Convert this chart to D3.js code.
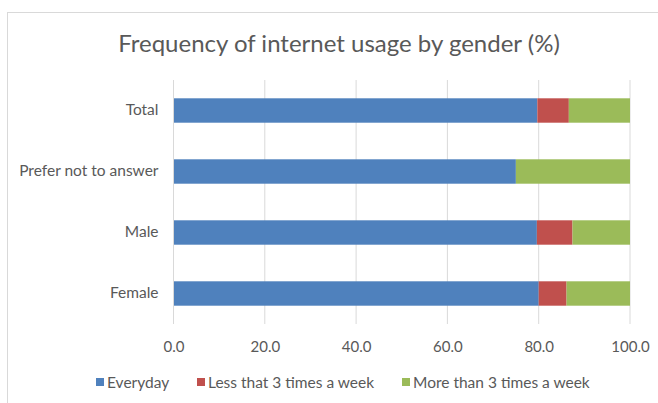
<!DOCTYPE html>
<html>
<head>
<meta charset="utf-8">
<script src="https://cdn.jsdelivr.net/npm/d3@7"></script>
<style>
  html, body { margin: 0; padding: 0; background: #fff; }
  svg { display: block; font-family: Lato, "Open Sans", sans-serif; }
</style>
</head>
<body>
<svg id="chart" width="658" height="403"></svg>
<script>
// Categories from top to bottom as listed on the axis
const categories = ["Total", "Prefer not to answer", "Male", "Female"];
const seriesNames = ["Everyday", "Less that 3 times a week", "More than 3 times a week"];
const everyday = [79.7, 75.0, 79.6, 80.0];
const lessThan3 = [6.9, 0.0, 7.8, 6.1];
const moreThan3 = [13.4, 25.0, 12.6, 13.9];
const tickValues = [0, 20, 40, 60, 80, 100];
const colors = ["#4f81bd", "#c0504d", "#9bbb59"];

const svg = d3.select("#chart");
const plot = { left: 173.5, right: 630, top: 80, bottom: 324 };

// Outer chart frame
svg.append("rect")
  .attr("x", 7.5).attr("y", 12.5)
  .attr("width", 700).attr("height", 450)
  .attr("fill", "#fff").attr("stroke", "#d9d9d9");

svg.append("text")
  .attr("x", 339).attr("y", 52)
  .attr("text-anchor", "middle")
  .attr("fill", "#595959")
  .attr("font-size", 24)
  .text("Frequency of internet usage by gender (%)");

const x = d3.scaleLinear().domain([0, 100]).range([plot.left, plot.right]);
const y = d3.scaleBand().domain(categories).range([plot.top, plot.bottom]).paddingInner(0.6).paddingOuter(0.3);

// Vertical gridlines
svg.append("g")
  .selectAll("line")
  .data(tickValues)
  .join("line")
  .attr("x1", d => x(d)).attr("x2", d => x(d))
  .attr("y1", plot.top).attr("y2", plot.bottom)
  .attr("stroke", "#d9d9d9").attr("stroke-width", 1);

// Stacked bars
const rows = categories.map((c, i) => ({ category: c, Everyday: everyday[i], Less: lessThan3[i], More: moreThan3[i] }));
const stack = d3.stack().keys(["Everyday", "Less", "More"])(rows);

svg.append("g")
  .selectAll("g")
  .data(stack)
  .join("g")
  .attr("fill", (d, i) => colors[i])
  .selectAll("rect")
  .data(d => d)
  .join("rect")
  .attr("x", d => x(d[0]))
  .attr("width", d => x(d[1]) - x(d[0]))
  .attr("y", d => y(d.data.category))
  .attr("height", y.bandwidth());

// Category axis line
svg.append("line")
  .attr("x1", plot.left).attr("x2", plot.left)
  .attr("y1", plot.top).attr("y2", plot.bottom)
  .attr("stroke", "#d9d9d9");

// Category labels
const yAxis = svg.append("g")
  .attr("transform", `translate(${plot.left},0)`)
  .call(d3.axisLeft(y).tickSize(0).tickPadding(15));
yAxis.select(".domain").remove();
yAxis.selectAll("text").attr("fill", "#595959").attr("font-size", 15.5).attr("font-family", "Lato, sans-serif");

// Value axis labels
const xAxis = svg.append("g")
  .attr("transform", `translate(0,${plot.bottom})`)
  .call(d3.axisBottom(x).tickValues(tickValues).tickFormat(d3.format(".1f")).tickSize(0).tickPadding(17));
xAxis.select(".domain").remove();
xAxis.selectAll("text").attr("fill", "#595959").attr("font-size", 15).attr("font-family", "Lato, sans-serif");

// Legend
const legendX = [96, 197, 402];
const legend = svg.append("g");
seriesNames.forEach((name, i) => {
  legend.append("rect")
    .attr("x", legendX[i]).attr("y", 378)
    .attr("width", 8).attr("height", 8)
    .attr("fill", colors[i]);
  legend.append("text")
    .attr("x", legendX[i] + 11).attr("y", 387.5)
    .attr("fill", "#595959").attr("font-size", 15.5)
    .text(name);
});
</script>
</body>
</html>
